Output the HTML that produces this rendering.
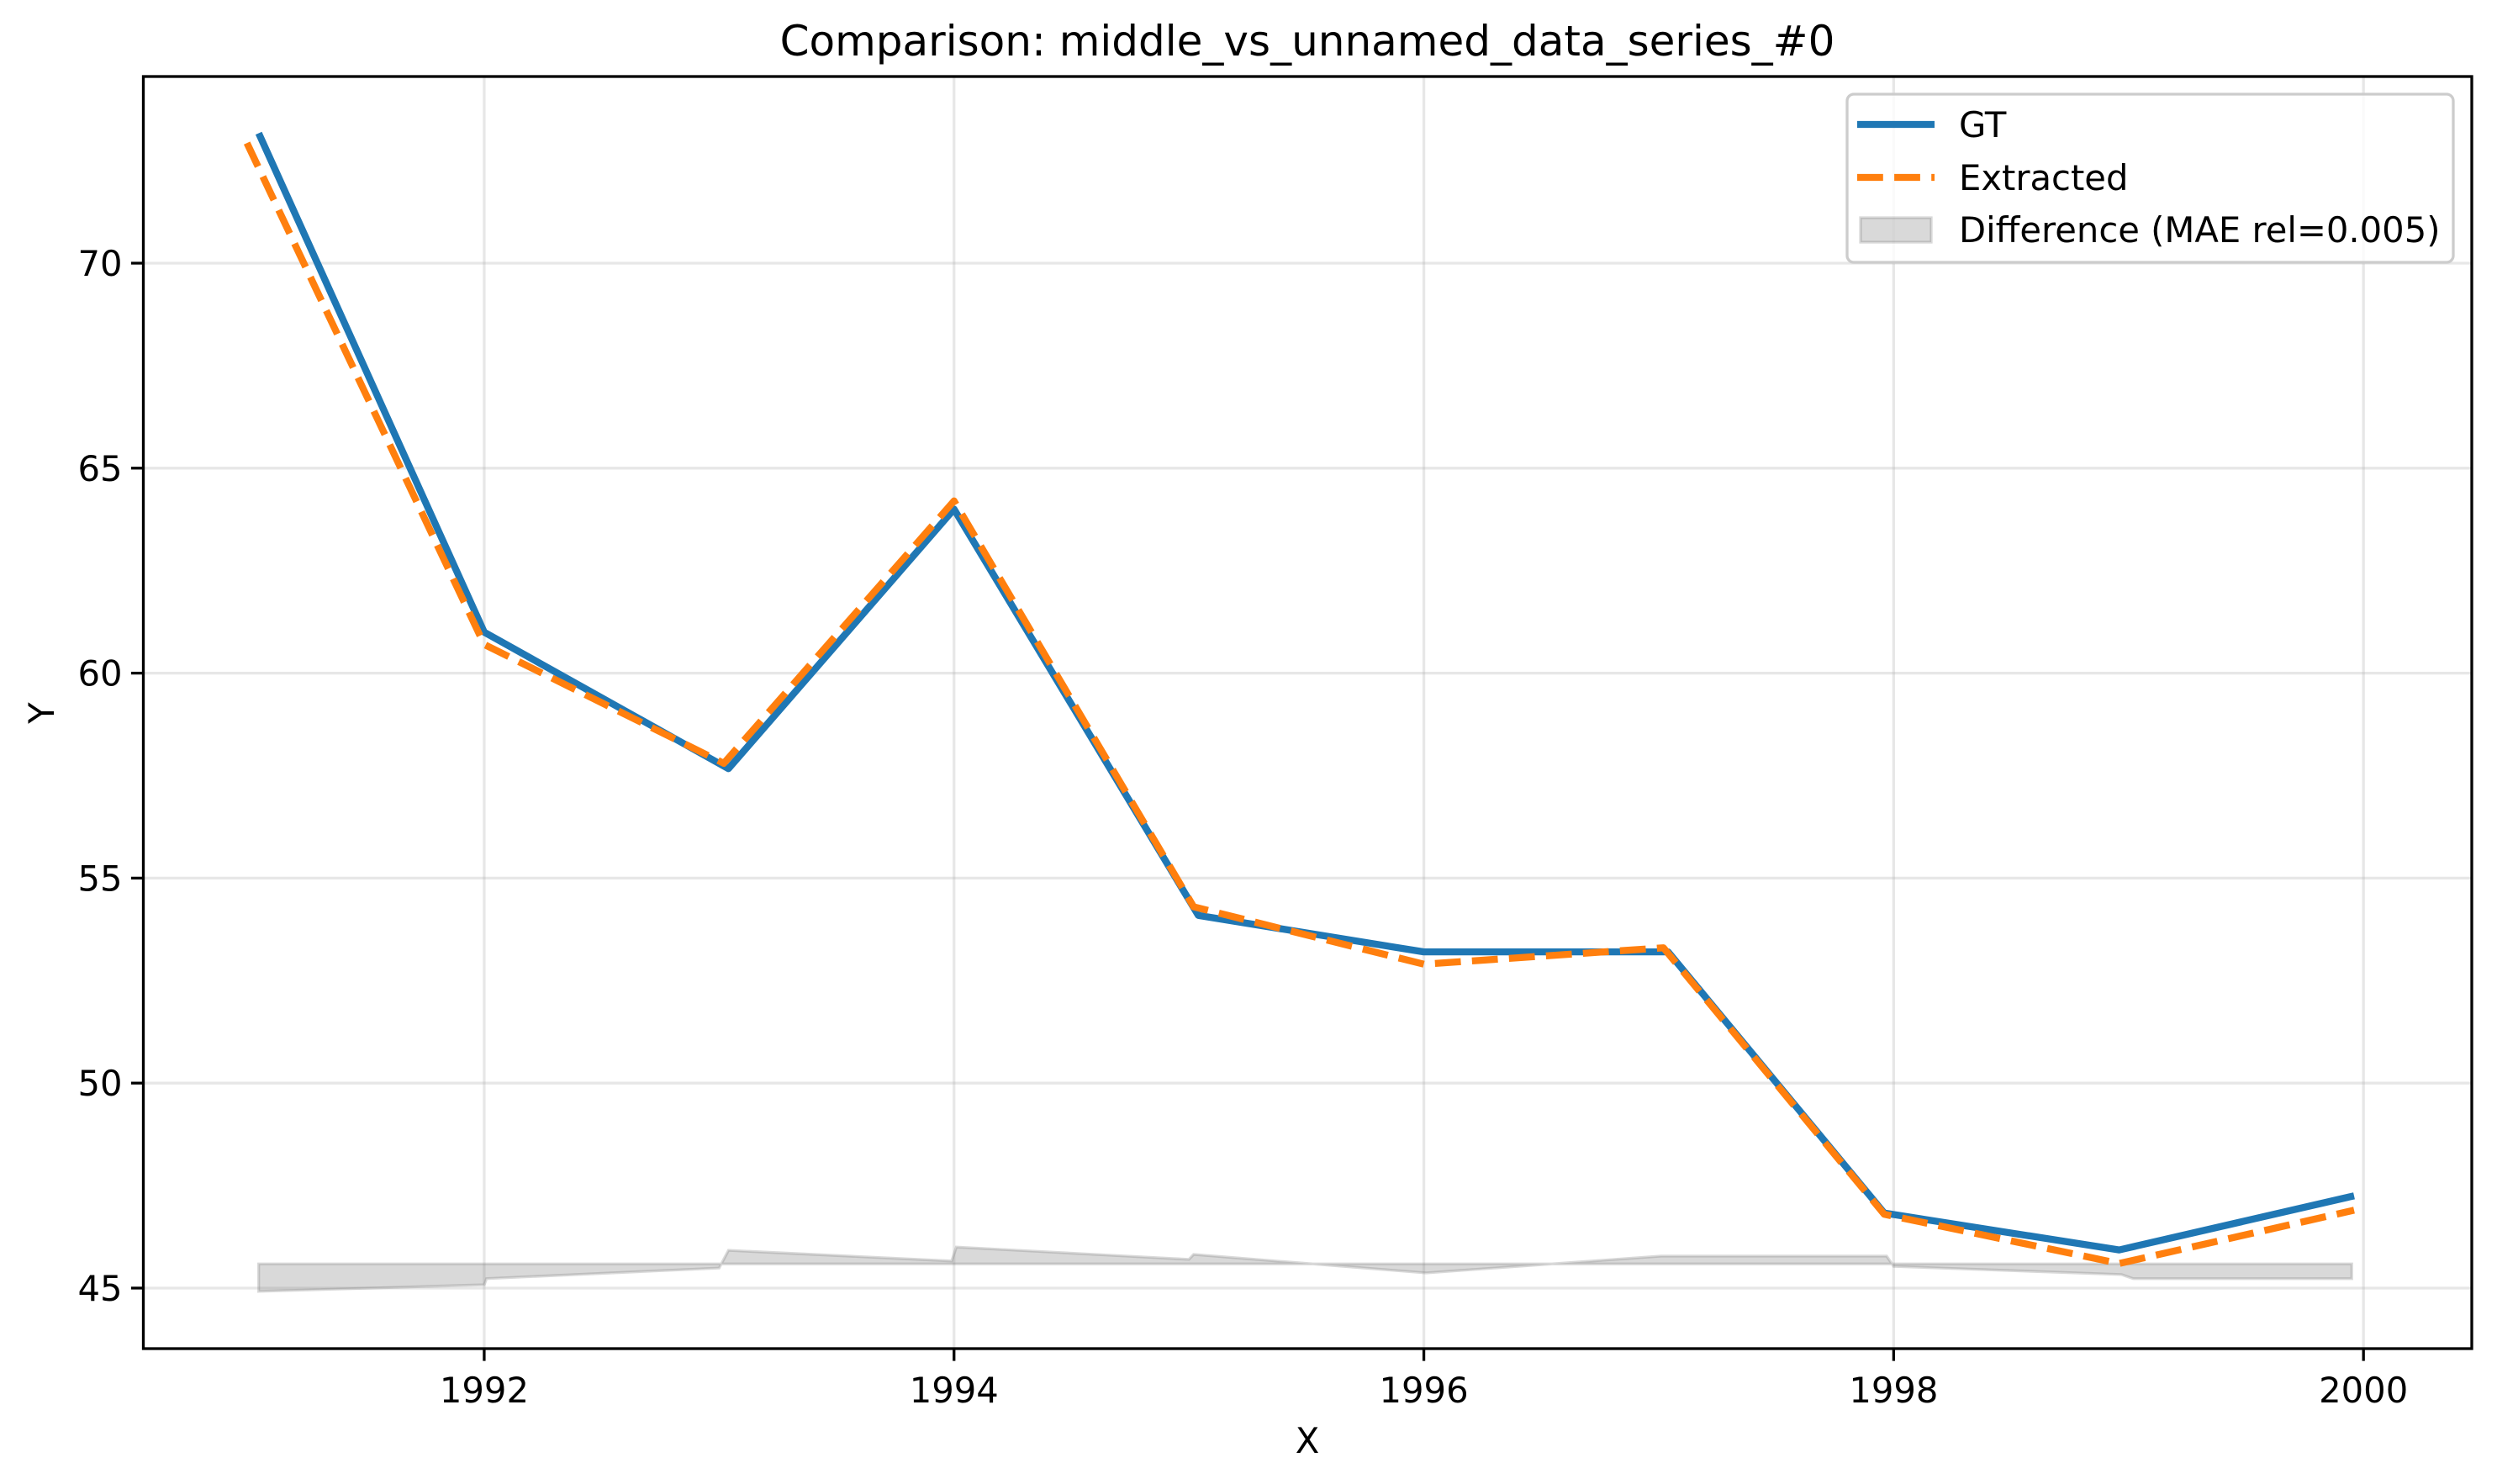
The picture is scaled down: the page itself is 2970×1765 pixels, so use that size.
<!DOCTYPE html>
<html><head><meta charset="utf-8">
<style>
html,body{margin:0;padding:0;background:#fff;}
svg{display:block;font-family:"DejaVu Sans","Liberation Sans",sans-serif;}
</style></head>
<body>
<svg id="chart" width="2970" height="1765" viewBox="0 0 2970 1765" xmlns="http://www.w3.org/2000/svg">
<rect x="0" y="0" width="2970" height="1765" fill="#fff"/>
<g id="grid"></g>
<g id="band"></g>
<g id="series"></g>
<rect x="170.5" y="91" width="2769.5" height="1513" fill="none" stroke="#000" stroke-width="3.3"/>
<g id="ticks"></g>
<text x="1555" y="66" font-size="50" text-anchor="middle">Comparison: middle_vs_unnamed_data_series_#0</text>
<text x="1555" y="1728" font-size="41.7" text-anchor="middle">X</text>
<text x="0" y="0" font-size="41.7" text-anchor="middle" transform="translate(64,848) rotate(-90)">Y</text>
<g>
<rect x="2197" y="112" width="721" height="200" rx="8" fill="#fff" fill-opacity="0.8" stroke="#cccccc" stroke-width="3.3"/>
<line x1="2209" y1="148" x2="2301" y2="148" stroke="#1f77b4" stroke-width="8.3"/>
<text x="2330" y="163" font-size="41.7">GT</text>
<line x1="2209" y1="211" x2="2301" y2="211" stroke="#ff7f0e" stroke-width="8.3" stroke-dasharray="30.8 13.3"/>
<text x="2330" y="226" font-size="41.7">Extracted</text>
<rect x="2213" y="259" width="84" height="29" fill="#808080" fill-opacity="0.3" stroke="#808080" stroke-opacity="0.3" stroke-width="3.3"/>
<text x="2330" y="288" font-size="41.7">Difference (MAE rel=0.005)</text>
</g>
</svg>
<script>
const gtX = [1991.04,1992.0,1993.04,1994.0,1995.04,1996.0,1997.04,1997.96,1998.96,1999.96];
const gtY = [73.17,61.0,57.67,64.0,54.09,53.2,53.2,46.83,45.93,47.25];
const exX = [1990.99,1992.0,1993.02,1994.0,1995.02,1996.0,1997.02,1997.96,1998.96,1999.96];
const exY = [72.93,60.7,57.8,64.2,54.3,52.9,53.3,46.8,45.6,46.9];
const bandX = [1991.04,1992.0,1992.01,1993.0,1993.04,1993.99,1994.01,1995.0,1995.02,1996.01,1997.01,1997.97,1998.0,1998.97,1999.02,1999.95];
const bandY = [44.92,45.08,45.23,45.49,45.92,45.66,46.0,45.7,45.82,45.37,45.78,45.78,45.53,45.33,45.23,45.23];
const bandBase = 45.59;
const xTicks = [1992,1994,1996,1998,2000];
const yTicks = [45,50,55,60,65,70];
const xTickLabels = ["1992","1994","1996","1998","2000"];
const yTickLabels = ["45","50","55","60","65","70"];

const L=170.5,R=2940,T=91,B=1604;
const X0=1990.549,X1=2000.461,Y0=43.523,Y1=74.553;
function sx(v){return L+(v-X0)/(X1-X0)*(R-L);}
function sy(v){return B-(v-Y0)/(Y1-Y0)*(B-T);}
const NS="http://www.w3.org/2000/svg";
function mk(tag,attrs,parent){const e=document.createElementNS(NS,tag);for(const k in attrs)e.setAttribute(k,attrs[k]);parent.appendChild(e);return e;}
const grid=document.getElementById('grid'),ticks=document.getElementById('ticks');
xTicks.forEach((t,i)=>{
  const gl=mk('line',{x1:sx(t),x2:sx(t),y1:T,y2:B,stroke:'#b0b0b0','stroke-opacity':0.3,'stroke-width':3.3},grid);
  
  
  const tk=mk('line',{x1:sx(t),x2:sx(t),y1:B,y2:B+14.6,stroke:'#000','stroke-width':3.3},ticks);
  
  
  const tx=mk('text',{x:sx(t),y:B+64,'font-size':41.7,'text-anchor':'middle'},ticks);
  tx.textContent=xTickLabels[i];
  
  
});
yTicks.forEach((t,i)=>{
  const gl=mk('line',{x1:L,x2:R,y1:sy(t),y2:sy(t),stroke:'#b0b0b0','stroke-opacity':0.3,'stroke-width':3.3},grid);
  
  
  const tk=mk('line',{x1:L-14.6,x2:L,y1:sy(t),y2:sy(t),stroke:'#000','stroke-width':3.3},ticks);
  
  
  const tx=mk('text',{x:L-25,y:sy(t)+15,'font-size':41.7,'text-anchor':'end'},ticks);
  tx.textContent=yTickLabels[i];
  
  
});
// band
let pts=bandX.map((x,i)=>sx(x)+','+sy(bandY[i]));
pts.push(sx(bandX[bandX.length-1])+','+sy(bandBase));
pts.push(sx(bandX[0])+','+sy(bandBase));
const poly=mk('polygon',{points:pts.join(' '),fill:'#808080','fill-opacity':0.3,stroke:'#808080','stroke-opacity':0.3,'stroke-width':3.3},document.getElementById('band'));


// lines
const ser=document.getElementById('series');
const gt=mk('polyline',{points:gtX.map((x,i)=>sx(x)+','+sy(gtY[i])).join(' '),fill:'none',stroke:'#1f77b4','stroke-width':8.3,'stroke-linejoin':'round'},ser);


const ex=mk('polyline',{points:exX.map((x,i)=>sx(x)+','+sy(exY[i])).join(' '),fill:'none',stroke:'#ff7f0e','stroke-width':8.3,'stroke-dasharray':'30.8 13.3','stroke-linejoin':'round'},ser);


</script>
</body></html>
